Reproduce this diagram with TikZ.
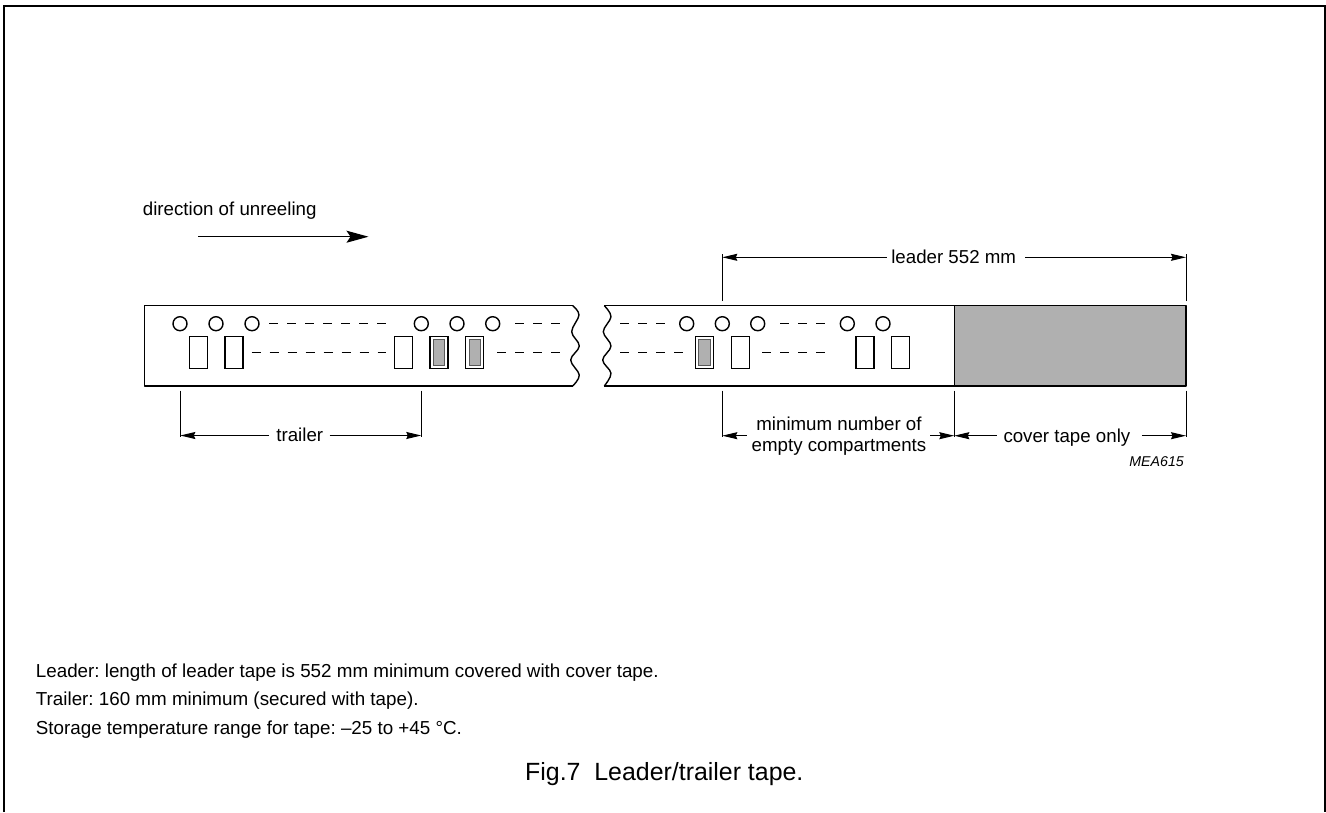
\documentclass[tikz,border=0pt]{standalone}
\usepackage{fontspec}
\setmainfont{Liberation Sans}
\usetikzlibrary{arrows.meta,calc}
\frenchspacing
\definecolor{covergray}{HTML}{B0B0B0}
\tikzset{
  tapeline/.style={line width=1.4pt,line join=round},
  hole/.style={circle,draw,line width=1.4pt,minimum size=14pt,inner sep=0pt},
  pocket/.style={draw,line width=1.3pt,minimum width=18pt,minimum height=32pt,inner sep=0pt},
  chip/.style={draw=black!65,fill=covergray,line width=1pt,minimum width=11.5pt,minimum height=25.5pt,inner sep=0pt},
  brokenline/.style={line width=1pt,dash pattern=on 9pt off 9pt},
  extline/.style={line width=.9pt},
  dimline/.style={line width=1pt,-{Stealth[length=15pt,width=7pt,inset=1.5pt]}},
  txt/.style={font=\fontsize{18.7}{22}\selectfont,inner xsep=0pt,inner ysep=0pt,text height=15pt,text depth=2.3pt,align=center},
  notetext/.style={font=\fontsize{18.8}{22}\selectfont,anchor=base west,inner sep=0pt},
}
\begin{document}
\begin{tikzpicture}[x=1pt,y=-1pt]
\useasboundingbox (0,0) rectangle (1326,812);
% frame, open at the bottom
\draw[line width=2pt] (4,812) -- (4,5.8) -- (1325,5.8) -- (1325,812);

% left tape piece
\draw[tapeline] plot[smooth,tension=.6] coordinates {(572.7,305.7) (579,315) (571.7,331.7) (579.3,346) (570.7,360) (579.3,375) (572.7,386)};
\draw[tapeline] (572.7,305.7) -- (144.3,305.7) -- (144.3,386) -- (572.7,386);
% right tape piece
\fill[covergray] (954.3,305.7) rectangle (1186,386);
\draw[tapeline] plot[smooth,tension=.6] coordinates {(604.3,305.7) (611,316.7) (603.3,331.7) (611,346) (602.7,360) (611,373.3) (604.3,386)};
\draw[tapeline] (604.3,305.7) -- (1186,305.7) -- (1186,386) -- (604.3,386);
\draw[line width=1.1pt] (954.3,305.7) -- (954.3,386);

% sprocket holes
\foreach \n/\x in {a/180,b/216,c/252,d/421.3,e/457,f/492.7,g/686.7,h/722.3,i/757.7,j/847.3,k/883}
  \node[hole] (hole\n) at (\x,323.7) {};

% compartments
\foreach \n/\x in {a/198.2,b/233.9,c/403.3,d/439,e/474.8,f/704.5,g/740.2,h/865,i/900.8}
  \node[pocket] (pock\n) at (\x,352.7) {};
\foreach \n in {d,e,f}
  \node[chip] (chip\n) at (pock\n) {};

% broken lines
\draw[brokenline] (269.3,323.7) -- (386,323.7);
\draw[brokenline] (251.7,352.7) -- (386,352.7);
\draw[brokenline] (515,323.7) -- (560,323.7);
\draw[brokenline] (497,352.7) -- (560,352.7);
\draw[brokenline] (620,323.7) -- (665,323.7);
\draw[brokenline] (620,352.7) -- (683,352.7);
\draw[brokenline] (780,323.7) -- (825,323.7);
\draw[brokenline] (762.3,352.7) -- (825,352.7);

% direction
\node[txt,anchor=base west] (dirtext) at (142.7,215) {direction of unreeling};
\coordinate (dirA) at (198.3,236.7);
\coordinate (dirB) at (368.5,236.7);
\draw[line width=1.2pt,-{Stealth[length=22pt,width=12pt,inset=4pt]}] (dirA) -- (dirB);

% trailer dimension
\coordinate (trA) at (180.3,390.7);
\coordinate (trB) at (421.3,390.7);
\coordinate (trC) at (180.3,435.5);
\coordinate (trD) at (421.3,435.5);
\draw[extline] (trA) -- ($(trC)+(0,1.5)$) (trB) -- ($(trD)+(0,1.5)$);
\node[txt,minimum width=60pt] (trailer) at (299.3,435.5) {\kern1pt trailer};
\draw[dimline] (trailer) -- (trC);
\draw[dimline] (trailer) -- (trD);

% leader dimension
\coordinate (leA) at (722.3,301);
\coordinate (leB) at (1186,301);
\coordinate (leC) at (722.3,257.3);
\coordinate (leD) at (1186,257.3);
\draw[extline] (leA) -- ($(leC)+(0,-3)$) (leB) -- ($(leD)+(0,-3)$);
\node[txt,minimum width=138pt] (leader) at (956,257.3) {\kern-4.6pt leader 552 mm};
\draw[dimline] (leader) -- (leC);
\draw[dimline] (leader) -- (leD);

% lower dimensions
\coordinate (loA) at (722.3,390.7);
\coordinate (loB) at (954.3,390.7);
\coordinate (loE) at (1186,390.7);
\coordinate (loC) at (722.3,435.7);
\coordinate (loD) at (954.3,435.7);
\coordinate (loF) at (1186,435.7);
\draw[extline] (loA) -- ($(loC)+(0,1.5)$) (loB) -- ($(loD)+(0,1.5)$) (loE) -- ($(loF)+(0,1.5)$);
\node[txt,minimum width=183pt] (minimum) at (838.3,435.7) {};
\node[txt] (minA) at (839,424) {minimum number of};
\node[txt] (minB) at (839,445.5) {empty compartments};
\draw[dimline] (minimum) -- (loC);
\draw[dimline] (minimum) -- (loD);
\node[txt,minimum width=145pt] (cover) at (1069.2,435.7) {\kern-4.6pt cover tape only};
\draw[dimline] (cover) -- (loD);
\draw[dimline] (cover) -- (loF);
\node[font=\fontsize{14.2}{18}\selectfont\itshape,anchor=base east,inner sep=0pt] (mea) at (1184,466) {MEA615};

% notes
\node[notetext] (noteA) at (35.7,677.3) {Leader: length of leader tape is 552 mm minimum covered with cover tape.};
\node[notetext] (noteB) at (35.7,705.7) {Trailer: 160 mm minimum (secured with tape).};
\node[notetext] (noteC) at (35.7,734.7) {Storage temperature range for tape: –25 to +45 °C.};
\node[font=\fontsize{24.9}{28}\selectfont,anchor=base west,inner sep=0pt] (caption) at (525,780) {Fig.7\hspace{.556em}Leader/trailer tape.};
\end{tikzpicture}
\end{document}
